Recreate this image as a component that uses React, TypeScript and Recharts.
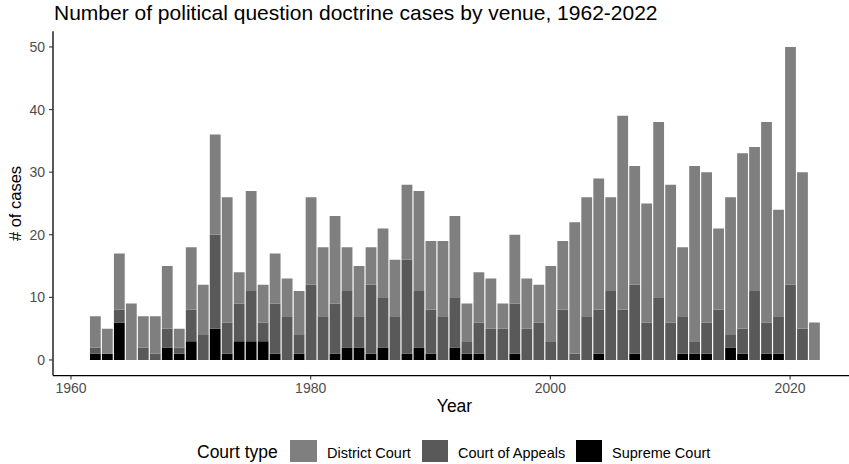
import React from "react";
import { BarChart, Bar, XAxis, YAxis } from "recharts";

const years: number[] = [
  1962, 1963, 1964, 1965, 1966, 1967, 1968, 1969, 1970, 1971, 1972, 1973, 1974, 1975, 1976, 1977, 1978, 1979, 1980,
  1981, 1982, 1983, 1984, 1985, 1986, 1987, 1988, 1989, 1990, 1991, 1992, 1993, 1994, 1995, 1996, 1997, 1998, 1999, 2000,
  2001, 2002, 2003, 2004, 2005, 2006, 2007, 2008, 2009, 2010, 2011, 2012, 2013, 2014, 2015, 2016, 2017, 2018, 2019, 2020,
  2021, 2022,
];

const supremeCourt: number[] = [
  1, 1, 6, 0, 0, 0, 2, 1, 3, 0, 5, 1, 3, 3, 3, 1, 0, 1, 0,
  0, 1, 2, 2, 1, 2, 0, 1, 2, 1, 0, 2, 1, 1, 0, 0, 1, 0, 0, 0,
  0, 0, 0, 1, 0, 0, 1, 0, 0, 0, 1, 1, 1, 0, 2, 1, 0, 1, 1, 0,
  0, 0,
];

const courtOfAppeals: number[] = [
  1, 0, 2, 0, 2, 1, 3, 1, 5, 4, 15, 5, 6, 8, 3, 8, 7, 3, 12,
  7, 8, 9, 5, 11, 8, 7, 15, 9, 7, 7, 8, 2, 5, 5, 5, 8, 5, 6, 3,
  8, 1, 7, 7, 11, 8, 11, 6, 10, 6, 6, 2, 5, 8, 2, 4, 11, 5, 6, 12,
  5, 0,
];

const districtCourt: number[] = [
  5, 4, 9, 9, 5, 6, 10, 3, 10, 8, 16, 20, 5, 16, 6, 8, 6, 7, 14,
  11, 14, 7, 8, 6, 11, 9, 12, 16, 11, 12, 13, 6, 8, 8, 4, 11, 8, 6, 12,
  11, 21, 19, 21, 15, 31, 19, 19, 28, 22, 11, 28, 24, 13, 22, 28, 23, 32, 17, 38,
  25, 6,
];

const xTicks: number[] = [1960, 1980, 2000, 2020];
const yTicks: number[] = [0, 10, 20, 30, 40, 50];

const seriesNames = ["District Court", "Court of Appeals", "Supreme Court"];
const seriesColors = ["#7f7f7f", "#595959", "#000000"];

const data = years.map((year, i) => ({
  year,
  supreme: supremeCourt[i],
  appeals: courtOfAppeals[i],
  district: districtCourt[i],
}));

const FONT = "'Liberation Sans', Arial, Helvetica, sans-serif";

export default function App() {
  return (
    <div
      style={{
        position: "absolute",
        left: 0,
        top: 0,
        width: 849,
        height: 464,
        overflow: "hidden",
        background: "#ffffff",
        fontFamily: FONT,
      }}
    >
      <BarChart
        width={856}
        height={464}
        data={data}
        margin={{ top: 31.3, right: 0, bottom: 0, left: 0 }}
        barCategoryGap={0}
        barGap={0}
      >
        <XAxis
          dataKey="year"
          type="number"
          domain={[1958.5, 2025.5]}
          allowDataOverflow
          ticks={xTicks}
          height={88.4}
          axisLine={{ stroke: "#000000", strokeWidth: 1.3 }}
          tickLine={{ stroke: "#333333", strokeWidth: 1.1 }}
          tickSize={4}
          tickMargin={3}
          tick={{ fill: "#4d4d4d", fontSize: 14, fontFamily: FONT }}
        />
        <YAxis
          type="number"
          domain={[-2.5, 52.5]}
          allowDataOverflow
          ticks={yTicks}
          width={53}
          axisLine={{ stroke: "#000000", strokeWidth: 1.3 }}
          tickLine={{ stroke: "#333333", strokeWidth: 1.1 }}
          tickSize={4}
          tickMargin={4}
          tick={{ fill: "#4d4d4d", fontSize: 14, fontFamily: FONT }}
        />
        <Bar dataKey="supreme" name="Supreme Court" stackId="a" fill={seriesColors[2]} barSize={10.8} isAnimationActive={false} />
        <Bar dataKey="appeals" name="Court of Appeals" stackId="a" fill={seriesColors[1]} barSize={10.8} isAnimationActive={false} />
        <Bar dataKey="district" name="District Court" stackId="a" fill={seriesColors[0]} barSize={10.8} isAnimationActive={false} />
      </BarChart>
      <svg
        width={849}
        height={464}
        style={{ position: "absolute", left: 0, top: 0, pointerEvents: "none" }}
      >
        <text x={54} y={19.5} fontSize={21} fill="#000000" fontFamily={FONT}>
          Number of political question doctrine cases by venue, 1962-2022
        </text>
        <text x={454.5} y={412} fontSize={17.5} fill="#000000" textAnchor="middle" fontFamily={FONT}>
          Year
        </text>
        <text
          x={0}
          y={0}
          fontSize={16.5}
          fill="#000000"
          textAnchor="middle"
          fontFamily={FONT}
          transform="translate(20.5,203.5) rotate(-90)"
        >
          # of cases
        </text>
        <text x={197} y={458} fontSize={17.5} fill="#000000" fontFamily={FONT}>
          Court type
        </text>
        <rect x={290} y={440} width={27} height={22} fill={seriesColors[0]} />
        <text x={327} y={457.5} fontSize={14.5} fill="#000000" fontFamily={FONT}>
          {seriesNames[0]}
        </text>
        <rect x={422} y={440} width={26} height={22} fill={seriesColors[1]} />
        <text x={458} y={457.5} fontSize={14.5} fill="#000000" fontFamily={FONT}>
          {seriesNames[1]}
        </text>
        <rect x={576} y={440} width={26} height={22} fill={seriesColors[2]} />
        <text x={612} y={457.5} fontSize={14.5} fill="#000000" fontFamily={FONT}>
          {seriesNames[2]}
        </text>
      </svg>
    </div>
  );
}
